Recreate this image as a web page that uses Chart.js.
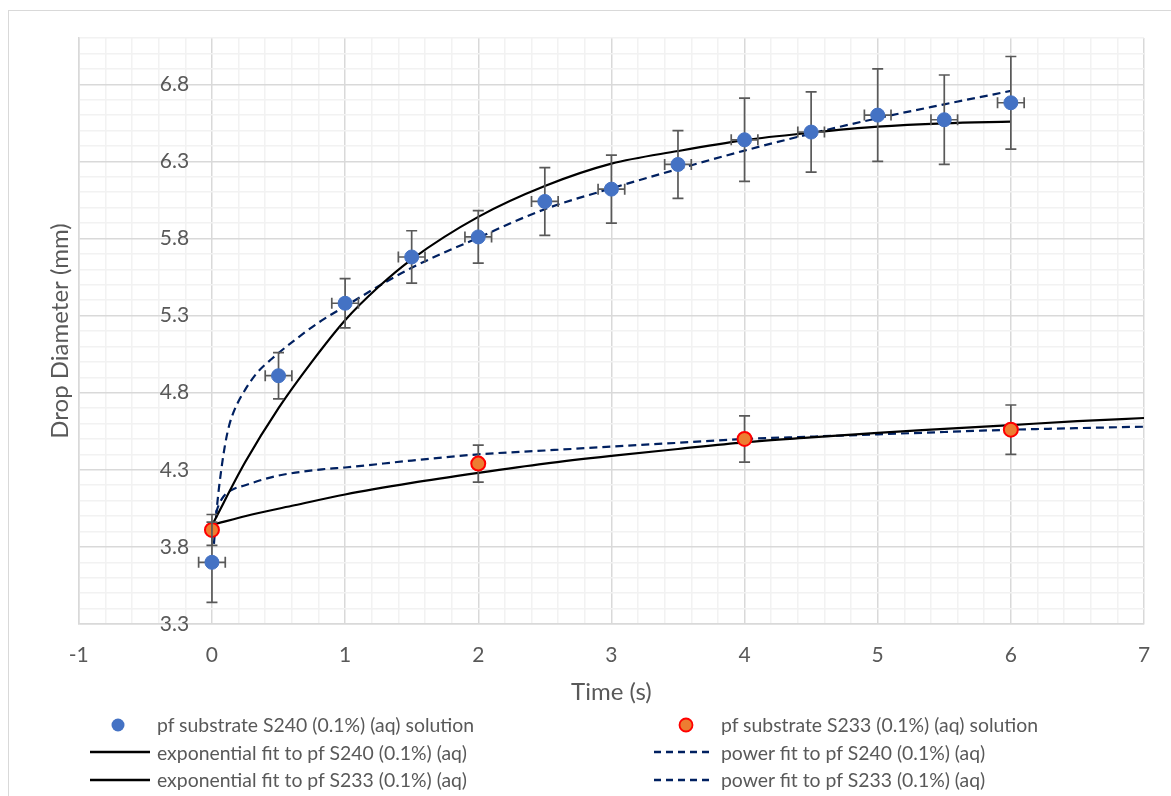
<!DOCTYPE html>
<html>
<head>
<meta charset="utf-8">
<script src="https://cdn.jsdelivr.net/npm/chart.js@4.4.1/dist/chart.umd.min.js"></script>
<style>
  body { margin: 0; background: #fff; font-family: Lato, sans-serif; }
  #frame { position: absolute; left: 8px; top: 10px; width: 1200px; height: 900px; border: 1px solid #d9d9d9; }
  #c { position: absolute; left: 0; top: 0; }
  #legend { position: absolute; left: 90px; top: 711px; display: grid; grid-template-columns: 564px 500px; color: #595959; font-size: 19.4px; }
  #legend .item { display: flex; align-items: center; height: 27.5px; white-space: nowrap; }
  #legend svg { width: 60px; height: 20px; margin-right: 7px; flex: none; }
</style>
</head>
<body>
<div id="frame"></div>
<canvas id="c" width="1171" height="796"></canvas>
<div id="legend"></div>
<script>
// measured points
let timeS240 = [0, 0.5, 1, 1.5, 2, 2.5, 3, 3.5, 4, 4.5, 5, 5.5, 6]
let diamS240 = [3.70, 4.91, 5.38, 5.68, 5.81, 6.04, 6.12, 6.28, 6.44, 6.49, 6.60, 6.57, 6.68]
let errYS240 = [0.26, 0.15, 0.16, 0.17, 0.17, 0.22, 0.22, 0.22, 0.27, 0.26, 0.30, 0.29, 0.30]
let errXS240 = [0.1, 0.1, 0.1, 0.1, 0.1, 0.1, 0.1, 0.1, 0.1, 0.1, 0.1, 0.1, 0.1]

let timeS233 = [0, 2, 4, 6]
let diamS233 = [3.91, 4.34, 4.50, 4.56]
let errYS233 = [0.10, 0.12, 0.15, 0.16]

// trendlines
let expS240X = [0, 0.25, 0.5, 0.75, 1, 1.25, 1.5, 2, 2.5, 3, 3.5, 4, 4.5, 5, 5.5, 6]
let expS240Y = [3.94, 4.35, 4.70, 5.00, 5.27, 5.485, 5.665, 5.94, 6.14, 6.285, 6.367, 6.438, 6.486, 6.525, 6.547, 6.558]

let powS240X = [0.015, 0.04, 0.07, 0.1, 0.13, 0.17, 0.25, 0.34, 0.45, 0.62, 0.81, 1, 1.3, 1.5, 2, 2.5, 3, 3.5, 4, 4.5, 5, 5.5, 6]
let powS240Y = [3.82, 4.08, 4.30, 4.47, 4.59, 4.69, 4.82, 4.93, 5.02, 5.14, 5.26, 5.36, 5.515, 5.61, 5.805, 5.99, 6.125, 6.25, 6.37, 6.48, 6.58, 6.67, 6.757]

let expS233X = [0, 0.3, 0.62, 1, 1.5, 2, 2.5, 3, 3.5, 4, 4.5, 5, 5.5, 6, 6.5, 7]
let expS233Y = [3.943, 4.01, 4.07, 4.14, 4.215, 4.28, 4.34, 4.39, 4.435, 4.478, 4.51, 4.54, 4.565, 4.59, 4.615, 4.636]

let powS233X = [0.03, 0.05, 0.09, 0.15, 0.25, 0.47, 0.85, 1, 1.5, 2, 2.5, 3, 3.5, 4, 4.5, 5, 5.5, 6, 6.5, 7]
let powS233Y = [4.02, 4.07, 4.13, 4.17, 4.20, 4.257, 4.305, 4.315, 4.36, 4.40, 4.425, 4.45, 4.475, 4.50, 4.515, 4.53, 4.545, 4.56, 4.57, 4.58]

let labels = [
    "pf substrate S240 (0.1%) (aq) solution",
    "pf substrate S233 (0.1%) (aq) solution",
    "exponential fit to pf S240 (0.1%) (aq)",
    "power fit to pf S240 (0.1%) (aq)",
    "exponential fit to pf S233 (0.1%) (aq)",
    "power fit to pf S233 (0.1%) (aq)"
]


function toPoints(xs, ys) {
    return xs.map((x, i) => ({ x: x, y: ys[i] }))
}

function isWhole(v) {
    return Math.abs(v - Math.round(v)) < 1e-6
}

function isMajorY(v) {
    return Math.round((v - 3.3) * 10) % 5 === 0
}


// draws the error bars just before the points of a dataset
const errorBars = {
    id: 'errorBars',
    beforeDatasetDraw(chart, args) {
        let ds = chart.data.datasets[args.index]
        if (!ds.errY) { return }
        let ctx = chart.ctx
        let xs = chart.scales.x
        let ys = chart.scales.y
        let cap = 5.5
        ctx.save()
        ctx.strokeStyle = '#595959'
        ctx.lineWidth = 1.7
        ds.data.forEach((p, i) => {
            let px = xs.getPixelForValue(p.x)
            let py = ys.getPixelForValue(p.y)
            let top = ys.getPixelForValue(p.y + ds.errY[i])
            let bot = ys.getPixelForValue(p.y - ds.errY[i])
            ctx.beginPath()
            ctx.moveTo(px, top); ctx.lineTo(px, bot)
            ctx.moveTo(px - cap, top); ctx.lineTo(px + cap, top)
            ctx.moveTo(px - cap, bot); ctx.lineTo(px + cap, bot)
            if (ds.errX) {
                let l = xs.getPixelForValue(p.x - ds.errX[i])
                let r = xs.getPixelForValue(p.x + ds.errX[i])
                ctx.moveTo(l, py); ctx.lineTo(r, py)
                ctx.moveTo(l, py - cap); ctx.lineTo(l, py + cap)
                ctx.moveTo(r, py - cap); ctx.lineTo(r, py + cap)
            }
            ctx.stroke()
        })
        ctx.restore()
    }
}


let fitLine = {
    showLine: true,
    pointRadius: 0,
    pointHoverRadius: 0,
    borderWidth: 2.2,
    cubicInterpolationMode: 'monotone'
}

let ctx = document.getElementById('c')

let chart = new Chart(ctx, {
    type: 'scatter',
    data: {
        datasets: [{
            label: labels[0],
            data: toPoints(timeS240, diamS240),
            errY: errYS240,
            errX: errXS240,
            backgroundColor: '#4472C4',
            borderColor: '#4472C4',
            borderWidth: 1,
            pointRadius: 7
        },
        {
            label: labels[1],
            data: toPoints(timeS233, diamS233),
            errY: errYS233,
            backgroundColor: '#ED7D31',
            borderColor: '#FF0000',
            borderWidth: 2,
            pointRadius: 7
        },
        Object.assign({
            label: labels[2],
            data: toPoints(expS240X, expS240Y),
            borderColor: '#000000'
        }, fitLine),
        Object.assign({
            label: labels[3],
            data: toPoints(powS240X, powS240Y),
            borderColor: '#002060',
            borderDash: [8, 5]
        }, fitLine),
        Object.assign({
            label: labels[4],
            data: toPoints(expS233X, expS233Y),
            borderColor: '#000000'
        }, fitLine),
        Object.assign({
            label: labels[5],
            data: toPoints(powS233X, powS233Y),
            borderColor: '#002060',
            borderDash: [8, 5]
        }, fitLine)]
    },
    options: {
        responsive: false,
        animation: false,
        devicePixelRatio: 1,
        layout: {
            padding: { left: 42, top: 38, right: 27, bottom: 85 }
        },
        scales: {
            x: {
                type: 'linear',
                min: -1,
                max: 7,
                ticks: {
                    stepSize: 0.2,
                    autoSkip: false,
                    maxRotation: 0,
                    padding: 19,
                    color: '#595959',
                    font: { family: 'Lato', size: 21 },
                    callback: function (value) {
                        return isWhole(value) ? String(Math.round(value)) : ''
                    }
                },
                grid: {
                    drawTicks: false,
                    lineWidth: 1.5,
                    color: (c) => isWhole(c.tick.value) ? '#d9d9d9' : '#f2f2f2'
                },
                border: { color: '#d9d9d9', width: 1.5 },
                title: {
                    display: true,
                    text: 'Time (s)',
                    color: '#595959',
                    font: { family: 'Lato', size: 24 },
                    padding: { top: 10, bottom: 4 }
                },
                // labels + title height, without the doubled tick padding
                afterFit: function (scale) {
                    scale.height = 87
                    scale.paddingLeft = 0
                    scale.paddingRight = 0
                }
            },
            y: {
                type: 'linear',
                min: 3.3,
                max: 7.1,
                ticks: {
                    stepSize: 0.1,
                    autoSkip: false,
                    mirror: true,
                    crossAlign: 'far',
                    padding: 81,
                    color: '#595959',
                    font: { family: 'Lato', size: 21 },
                    callback: function (value) {
                        return isMajorY(value) ? value.toFixed(1) : ''
                    }
                },
                grid: {
                    drawTicks: false,
                    lineWidth: 1.5,
                    color: (c) => isMajorY(c.tick.value) ? '#d9d9d9' : '#f2f2f2'
                },
                border: { color: '#d9d9d9', width: 1.5 },
                title: {
                    display: true,
                    text: 'Drop Diameter (mm)',
                    color: '#595959',
                    font: { family: 'Lato', size: 24 },
                    padding: { top: 4, bottom: 4 }
                },
                // labels sit inside the plot (next to x = 0), so only the title takes room
                afterFit: function (scale) {
                    scale.width = 36.8
                    scale.paddingTop = 0
                    scale.paddingBottom = 0
                }
            }
        },
        plugins: {
            legend: { display: false },
            tooltip: { enabled: false }
        }
    },
    plugins: [errorBars]
})


// legend below the plot, two columns like the original
function buildLegend() {
    let box = document.getElementById('legend')
    let order = [0, 1, 2, 3, 4, 5]
    order.forEach((i) => {
        let ds = chart.data.datasets[i]
        let item = document.createElement('div')
        item.className = 'item'
        let sym
        if (ds.showLine) {
            let dash = ds.borderDash ? ' stroke-dasharray="7 5"' : ''
            sym = '<svg viewBox="0 0 60 20"><line x1="0" y1="10" x2="60" y2="10" stroke="' + ds.borderColor +
                '" stroke-width="2.4"' + dash + '/></svg>'
        } else {
            sym = '<svg viewBox="0 0 60 20"><circle cx="' + (i === 0 ? 28 : 32) + '" cy="10" r="6.5" fill="' + ds.backgroundColor +
                '" stroke="' + ds.borderColor + '" stroke-width="' + (i === 0 ? 0 : 1.8) + '"/></svg>'
        }
        item.innerHTML = sym + '<span>' + ds.label + '</span>'
        box.appendChild(item)
    })
}

buildLegend()
</script>
</body>
</html>
